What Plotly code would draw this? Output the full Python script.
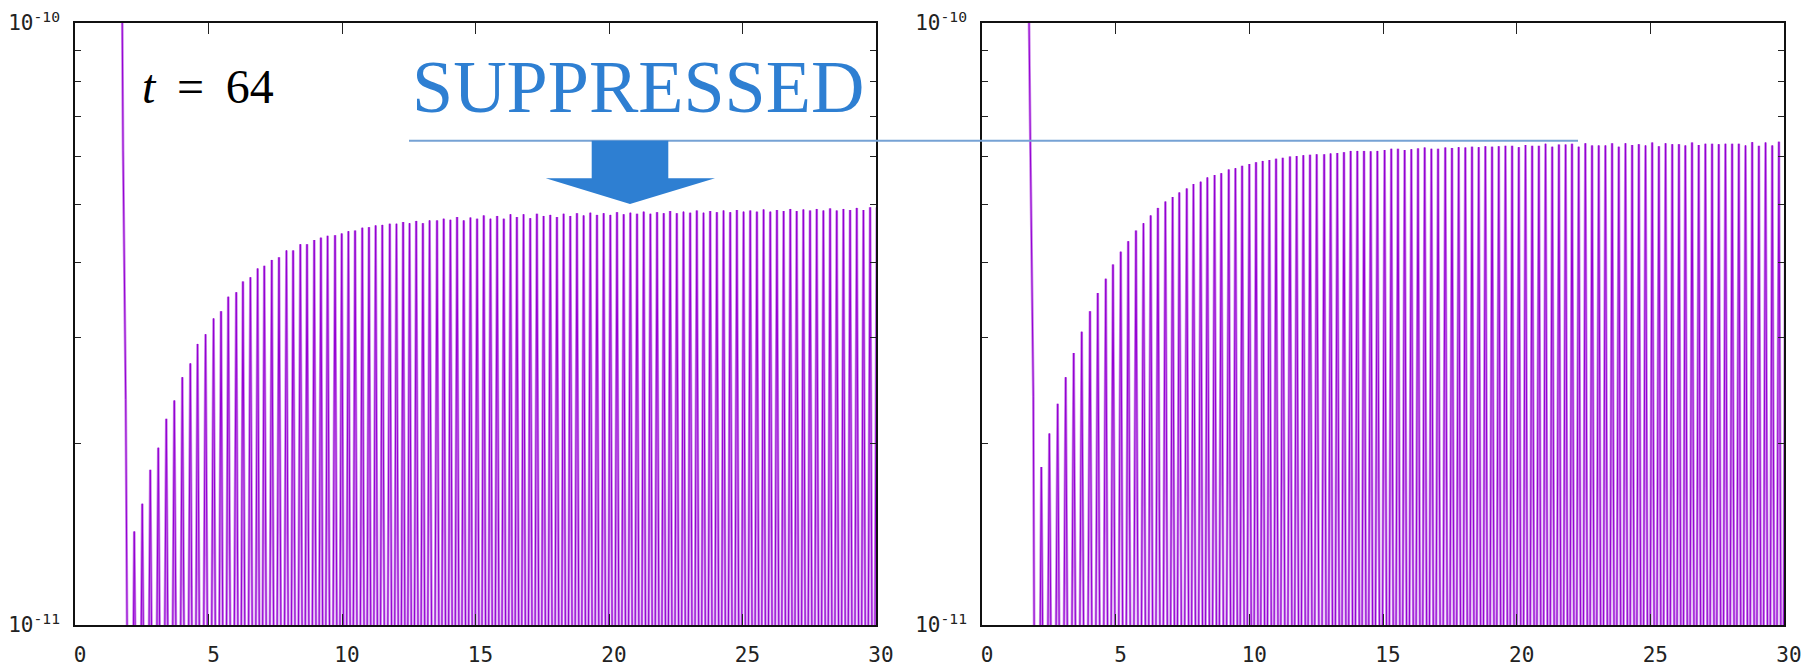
import plotly.graph_objects as go

# ---------------- data ----------------
X_TICKS = [0, 5, 10, 15, 20, 25, 30]
Y_MAJOR = [1e-11, 1e-10]
Y_MAJOR_TEXT = ["10<sup>-11</sup>", "10<sup>-10</sup>"]
Y_MINOR = [2e-11, 3e-11, 4e-11, 5e-11, 6e-11, 7e-11, 8e-11, 9e-11]

# initial steep drop (both panels)
left_drop_x = [1.50, 1.77, 1.80, 1.90, 1.95]
left_drop_y = [4e-10, 1.0e-10, 6.15e-11, 2.37e-11, 1.0e-11]
right_drop_x = [1.50, 1.76, 1.81, 1.92, 1.95]
right_drop_y = [4e-10, 1.0e-10, 6.2e-11, 2.4e-11, 1.0e-11]

# value reached between peaks (below the visible range)
trough_value = 2.5e-12

# left panel ("t = 64", suppressed): peak positions and heights
left_peak_x = [
    2.22, 2.52, 2.82, 3.12, 3.42, 3.72, 4.02, 4.32, 4.59, 4.89,
    5.19, 5.47, 5.74, 6.04, 6.29, 6.57, 6.84, 7.09, 7.37, 7.64,
    7.92, 8.17, 8.44, 8.69, 8.96, 9.21, 9.46, 9.74, 9.99, 10.24,
    10.49, 10.76, 11.01, 11.26, 11.51, 11.79, 12.04, 12.29, 12.53, 12.78,
    13.03, 13.28, 13.56, 13.81, 14.06, 14.31, 14.56, 14.81, 15.06, 15.31,
    15.56, 15.81, 16.06, 16.31, 16.55, 16.80, 17.05, 17.30, 17.55, 17.80,
    18.05, 18.30, 18.55, 18.80, 19.05, 19.30, 19.55, 19.80, 20.05, 20.30,
    20.55, 20.80, 21.05, 21.30, 21.55, 21.80, 22.05, 22.29, 22.54, 22.79,
    23.04, 23.29, 23.54, 23.79, 24.04, 24.29, 24.54, 24.79, 25.04, 25.29,
    25.54, 25.79, 26.04, 26.29, 26.54, 26.79, 27.03, 27.28, 27.53, 27.78,
    28.03, 28.28, 28.53, 28.78, 29.03, 29.28, 29.53, 29.78,
]
left_peak_y = [
    1.43e-11, 1.59e-11, 1.81e-11, 1.97e-11, 2.20e-11, 2.36e-11, 2.58e-11, 2.72e-11, 2.93e-11, 3.04e-11,
    3.23e-11, 3.32e-11, 3.51e-11, 3.57e-11, 3.72e-11, 3.78e-11, 3.91e-11, 3.95e-11, 4.04e-11, 4.08e-11,
    4.19e-11, 4.19e-11, 4.29e-11, 4.29e-11, 4.36e-11, 4.40e-11, 4.43e-11, 4.44e-11, 4.47e-11, 4.51e-11,
    4.52e-11, 4.57e-11, 4.58e-11, 4.61e-11, 4.62e-11, 4.64e-11, 4.64e-11, 4.67e-11, 4.65e-11, 4.69e-11,
    4.65e-11, 4.70e-11, 4.70e-11, 4.73e-11, 4.71e-11, 4.76e-11, 4.70e-11, 4.75e-11, 4.73e-11, 4.79e-11,
    4.73e-11, 4.78e-11, 4.73e-11, 4.81e-11, 4.76e-11, 4.81e-11, 4.74e-11, 4.82e-11, 4.78e-11, 4.80e-11,
    4.76e-11, 4.82e-11, 4.78e-11, 4.83e-11, 4.79e-11, 4.84e-11, 4.80e-11, 4.83e-11, 4.80e-11, 4.85e-11,
    4.81e-11, 4.84e-11, 4.82e-11, 4.86e-11, 4.82e-11, 4.85e-11, 4.83e-11, 4.87e-11, 4.83e-11, 4.86e-11,
    4.84e-11, 4.88e-11, 4.84e-11, 4.87e-11, 4.85e-11, 4.88e-11, 4.85e-11, 4.89e-11, 4.86e-11, 4.88e-11,
    4.86e-11, 4.90e-11, 4.86e-11, 4.89e-11, 4.87e-11, 4.91e-11, 4.87e-11, 4.90e-11, 4.88e-11, 4.91e-11,
    4.88e-11, 4.92e-11, 4.88e-11, 4.91e-11, 4.89e-11, 4.93e-11, 4.89e-11, 4.94e-11,
]

# right panel (unsuppressed): peak positions and heights
right_peak_x = [
    2.22, 2.52, 2.83, 3.13, 3.43, 3.73, 4.04, 4.33, 4.63, 4.90,
    5.19, 5.47, 5.76, 6.04, 6.31, 6.58, 6.86, 7.13, 7.38, 7.66,
    7.91, 8.18, 8.43, 8.70, 8.95, 9.23, 9.48, 9.73, 10.00, 10.25,
    10.50, 10.75, 11.00, 11.25, 11.52, 11.77, 12.02, 12.27, 12.52, 12.80,
    13.04, 13.29, 13.54, 13.79, 14.04, 14.29, 14.54, 14.79, 15.06, 15.31,
    15.56, 15.81, 16.06, 16.31, 16.56, 16.81, 17.06, 17.33, 17.58, 17.83,
    18.08, 18.33, 18.58, 18.83, 19.08, 19.33, 19.58, 19.83, 20.08, 20.33,
    20.58, 20.83, 21.08, 21.33, 21.58, 21.83, 22.07, 22.32, 22.57, 22.82,
    23.07, 23.32, 23.57, 23.82, 24.07, 24.32, 24.57, 24.82, 25.07, 25.32,
    25.57, 25.82, 26.07, 26.31, 26.56, 26.81, 27.06, 27.31, 27.56, 27.81,
    28.06, 28.31, 28.56, 28.81, 29.06, 29.31, 29.56, 29.81,
]
right_peak_y = [
    1.83e-11, 2.08e-11, 2.33e-11, 2.58e-11, 2.83e-11, 3.07e-11, 3.32e-11, 3.56e-11, 3.76e-11, 3.97e-11,
    4.17e-11, 4.34e-11, 4.52e-11, 4.65e-11, 4.79e-11, 4.93e-11, 5.05e-11, 5.14e-11, 5.23e-11, 5.31e-11,
    5.40e-11, 5.45e-11, 5.54e-11, 5.59e-11, 5.63e-11, 5.71e-11, 5.74e-11, 5.79e-11, 5.83e-11, 5.87e-11,
    5.90e-11, 5.92e-11, 5.95e-11, 5.97e-11, 6.00e-11, 6.01e-11, 6.03e-11, 6.04e-11, 6.05e-11, 6.05e-11,
    6.07e-11, 6.08e-11, 6.10e-11, 6.13e-11, 6.13e-11, 6.13e-11, 6.12e-11, 6.13e-11, 6.15e-11, 6.18e-11,
    6.18e-11, 6.15e-11, 6.17e-11, 6.19e-11, 6.21e-11, 6.18e-11, 6.18e-11, 6.21e-11, 6.20e-11, 6.22e-11,
    6.21e-11, 6.23e-11, 6.22e-11, 6.24e-11, 6.23e-11, 6.24e-11, 6.25e-11, 6.25e-11, 6.22e-11, 6.27e-11,
    6.25e-11, 6.25e-11, 6.30e-11, 6.23e-11, 6.28e-11, 6.28e-11, 6.30e-11, 6.23e-11, 6.31e-11, 6.26e-11,
    6.26e-11, 6.26e-11, 6.31e-11, 6.23e-11, 6.31e-11, 6.27e-11, 6.29e-11, 6.26e-11, 6.33e-11, 6.24e-11,
    6.31e-11, 6.29e-11, 6.29e-11, 6.26e-11, 6.33e-11, 6.27e-11, 6.30e-11, 6.30e-11, 6.29e-11, 6.30e-11,
    6.30e-11, 6.30e-11, 6.26e-11, 6.34e-11, 6.25e-11, 6.33e-11, 6.26e-11, 6.35e-11,
]

# ---------------- build traces ----------------
def build_curve(drop_x, drop_y, peak_x, peak_y, trough):
    xs = list(drop_x)
    ys = list(drop_y)
    prev = drop_x[-1]
    for px, py in zip(peak_x, peak_y):
        xs.append((prev + px) / 2.0)
        ys.append(trough)
        xs.append(px)
        ys.append(py)
        prev = px
    step = peak_x[-1] - peak_x[-2]
    xs.append(peak_x[-1] + step / 2.0)
    ys.append(trough)
    xs.append(peak_x[-1] + step)
    ys.append(peak_y[-1])
    return xs, ys

lx, ly = build_curve(left_drop_x, left_drop_y, left_peak_x, left_peak_y, trough_value)
rx, ry = build_curve(right_drop_x, right_drop_y, right_peak_x, right_peak_y, trough_value)

# page offset: the html body has an 8 px margin
OFF = 8
W, H = 1809 - OFF, 666 - OFF
PURPLE = "#9400D3"
PURPLE_SOFT = "rgba(148,0,211,0.48)"
BLUE = "#2E7FD2"
LINEBLUE = "#76A2D4"

fig = go.Figure()
for xs_, ys_, xa, ya in [(lx, ly, "x", "y"), (rx, ry, "x2", "y2")]:
    fig.add_trace(go.Scatter(x=xs_, y=ys_, mode="lines", line=dict(color=PURPLE_SOFT, width=2.7),
                             xaxis=xa, yaxis=ya, showlegend=False, hoverinfo="skip"))
    fig.add_trace(go.Scatter(x=xs_, y=ys_, mode="lines", line=dict(color=PURPLE, width=1.0),
                             xaxis=xa, yaxis=ya, showlegend=False, hoverinfo="skip"))

def px_x(p):
    return (p - OFF) / W

def px_y(p):
    return 1 - (p - OFF) / H

tickfont = dict(family="DejaVu Sans Mono", size=21, color="#222222")
xcommon = dict(range=[0, 30], tickvals=X_TICKS, ticktext=[str(v) for v in X_TICKS],
               ticks="inside", ticklen=11, tickwidth=1.3, tickcolor="#222222",
               showline=True, linecolor="#111111", linewidth=1.6, mirror="ticks",
               showgrid=False, zeroline=False, tickfont=tickfont, automargin=False,
               ticklabeloverflow="allow",
               ticklabelshift=5, ticklabelstandoff=10)
ycommon = dict(type="log", range=[-11, -10], tickvals=Y_MAJOR, ticktext=Y_MAJOR_TEXT,
               ticks="inside", ticklen=6, tickwidth=1.3, tickcolor="#222222",
               minor=dict(tickvals=Y_MINOR, ticks="inside", ticklen=6, tickwidth=1.3,
                          tickcolor="#222222", showgrid=False),
               showline=True, linecolor="#111111", linewidth=1.6, mirror="ticks",
               showgrid=False, zeroline=False, tickfont=tickfont, automargin=False,
               ticklabeloverflow="allow",
               ticklabelstandoff=9)

ydom = [px_y(625), px_y(23)]
fig.update_layout(
    width=W, height=H,
    margin=dict(l=0, r=0, t=0, b=0, pad=0),
    paper_bgcolor="white", plot_bgcolor="white",
    xaxis=dict(domain=[px_x(75), px_x(876)], anchor="y", **xcommon),
    yaxis=dict(domain=ydom, anchor="x", **ycommon),
    xaxis2=dict(domain=[px_x(982), px_x(1784)], anchor="y2", **xcommon),
    yaxis2=dict(domain=ydom, anchor="x2", **ycommon),
)

# horizontal reference line and block arrow
fig.add_shape(type="line", xref="paper", yref="paper",
              x0=px_x(409), x1=px_x(1578), y0=px_y(140.7), y1=px_y(140.7),
              line=dict(color=LINEBLUE, width=2))
arrow_pts = [(591.7, 140.7), (668.3, 140.7), (668.3, 178.3), (715, 178.3),
             (630, 204), (545.7, 178.3), (591.7, 178.3)]
path = "M " + " L ".join(f"{px_x(a):.5f},{px_y(b):.5f}" for a, b in arrow_pts) + " Z"
fig.add_shape(type="path", xref="paper", yref="paper", path=path,
              fillcolor=BLUE, line=dict(width=0))

fig.add_annotation(text="SUPPRESSED", xref="paper", yref="paper",
                   x=px_x(638), y=px_y(87), xanchor="center", yanchor="middle",
                   showarrow=False, font=dict(family="Liberation Serif", size=74, color=BLUE))
fig.add_annotation(text="<i>t</i>&nbsp;\u2009=&nbsp;\u200964", xref="paper", yref="paper",
                   x=px_x(208), y=px_y(86.5), xanchor="center", yanchor="middle",
                   showarrow=False, font=dict(family="Liberation Serif", size=48, color="black"))

fig.write_html("out.html")
